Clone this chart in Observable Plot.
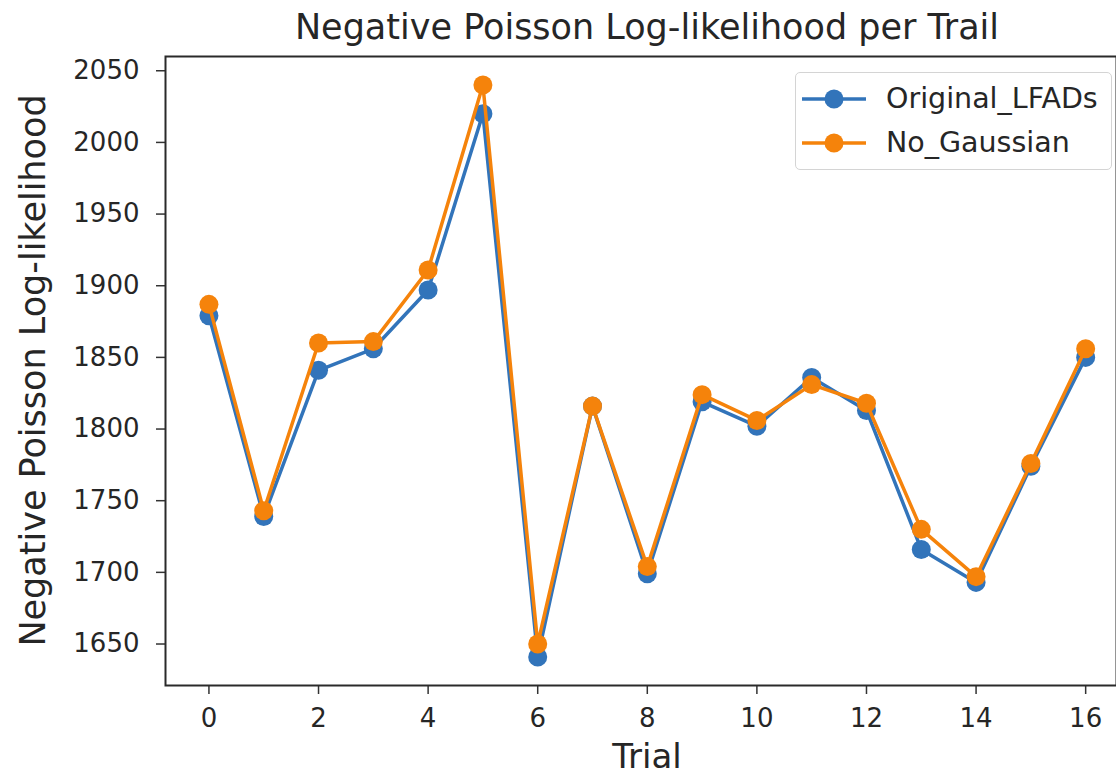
<!DOCTYPE html>
<html>
<head>
<meta charset="utf-8">
<script src="https://cdn.jsdelivr.net/npm/d3@7"></script>
<script src="https://cdn.jsdelivr.net/npm/@observablehq/plot@0.6"></script>
<style>
  html, body { margin: 0; padding: 0; background: #fff; width: 1116px; height: 777px; overflow: hidden; }
  #wrap { position: relative; width: 1116px; height: 777px; font-family: "DejaVu Sans", sans-serif; color: #262626; }
  #title { position: absolute; left: 165px; width: 964px; top: 10px; text-align: center; font-size: 35px; line-height: 35px; white-space: nowrap; }
  #chart { position: absolute; left: 0; top: 50px; }
  #xlabel { position: absolute; left: 165px; width: 964px; top: 739px; text-align: center; font-size: 34px; line-height: 34px; }
  #ylabel { position: absolute; left: -317px; width: 700px; top: 353px; height: 35px; text-align: center; font-size: 35px; line-height: 35px; transform: rotate(-90deg); transform-origin: 350px 17.5px; white-space: nowrap; }
  #legend { position: absolute; left: 795px; top: 72px; width: 317px; height: 98px; border: 1.5px solid #d4d4d4; border-radius: 5px; background: rgba(255,255,255,0.85); box-sizing: border-box; }
  .lrow { position: absolute; left: 6px; height: 34px; display: flex; align-items: center; }
  .lrow span { font-size: 28.5px; line-height: 34px; margin-left: 20px; white-space: nowrap; }
</style>
</head>
<body>
<div id="wrap">
  <div id="title"></div>
  <div id="chart"></div>
  <div id="xlabel"></div>
  <div id="ylabel"></div>
  <div id="legend"></div>
</div>
<script>
// ---- data ----
const titleText = "Negative Poisson Log-likelihood per Trail";
const xLabelText = "Trial";
const yLabelText = "Negative Poisson Log-likelihood";
const trials = [0, 1, 2, 3, 4, 5, 6, 7, 8, 9, 10, 11, 12, 13, 14, 15, 16];
const originalLFADs = [1879, 1739, 1841, 1856, 1897, 2020, 1641, 1816, 1699, 1819, 1802, 1836, 1813, 1716, 1693, 1774, 1850];
const noGaussian    = [1887, 1743, 1860, 1861, 1911, 2040, 1650, 1816, 1704, 1824, 1806, 1831, 1818, 1730, 1697, 1776, 1856];
const seriesNames = ["Original_LFADs", "No_Gaussian"];
const seriesColors = ["#3274ba", "#f5830b"];
const xTicks = [0, 2, 4, 6, 8, 10, 12, 14, 16];
const yTicks = [1650, 1700, 1750, 1800, 1850, 1900, 1950, 2000, 2050];

// ---- build table ----
const seriesValues = [originalLFADs, noGaussian];
const rows = seriesValues.map((vals, s) => trials.map((t, i) => ({trial: t, value: vals[i], series: seriesNames[s]})));

// matplotlib-like 5% margins
const allVals = seriesValues.flat();
const yMin = d3.min(allVals), yMax = d3.max(allVals);
const yPad = (yMax - yMin) * 0.05;
const xMin = d3.min(trials), xMax = d3.max(trials);
const xPad = (xMax - xMin) * 0.05;

const marks = [
  Plot.axisX({ticks: xTicks, tickSize: 9, tickPadding: 14, label: null, fontSize: 26, stroke: "#333", strokeWidth: 1.5}),
  Plot.axisY({ticks: yTicks, tickSize: 9, tickPadding: 17, label: null, fontSize: 26, tickFormat: d3.format("d"), stroke: "#333", strokeWidth: 1.5})
];
rows.forEach((r, s) => {
  marks.push(Plot.line(r, {x: "trial", y: "value", stroke: seriesColors[s], strokeWidth: 3.5}));
  marks.push(Plot.dot(r, {x: "trial", y: "value", r: 9.5, fill: seriesColors[s], stroke: "none"}));
});
marks.push(Plot.frame({stroke: "#2a2a2a", strokeWidth: 2}));

const chart = Plot.plot({
  width: 1116,
  height: 727,
  marginLeft: 165, marginRight: 0, marginTop: 6, marginBottom: 92,
  x: {domain: [xMin - xPad, xMax + xPad], range: [164.6, 1129]},
  y: {domain: [yMin - yPad, yMax + yPad], range: [635, 6]},
  style: {fontFamily: "DejaVu Sans", fontSize: "26px", color: "#262626", background: "#fff", overflow: "hidden"},
  marks
});
document.getElementById("chart").appendChild(chart);

document.getElementById("title").textContent = titleText;
document.getElementById("xlabel").textContent = xLabelText;
document.getElementById("ylabel").textContent = yLabelText;

// ---- legend ----
const legend = document.getElementById("legend");
seriesNames.forEach((name, s) => {
  const row = document.createElement("div");
  row.className = "lrow";
  row.style.top = (9 + s * 44) + "px";
  row.innerHTML = `<svg width="64" height="34"><line x1="0" x2="64" y1="17" y2="17" stroke="${seriesColors[s]}" stroke-width="3.5"/><circle cx="32" cy="17" r="9.5" fill="${seriesColors[s]}"/></svg><span>${name}</span>`;
  legend.appendChild(row);
});
</script>
</body>
</html>
